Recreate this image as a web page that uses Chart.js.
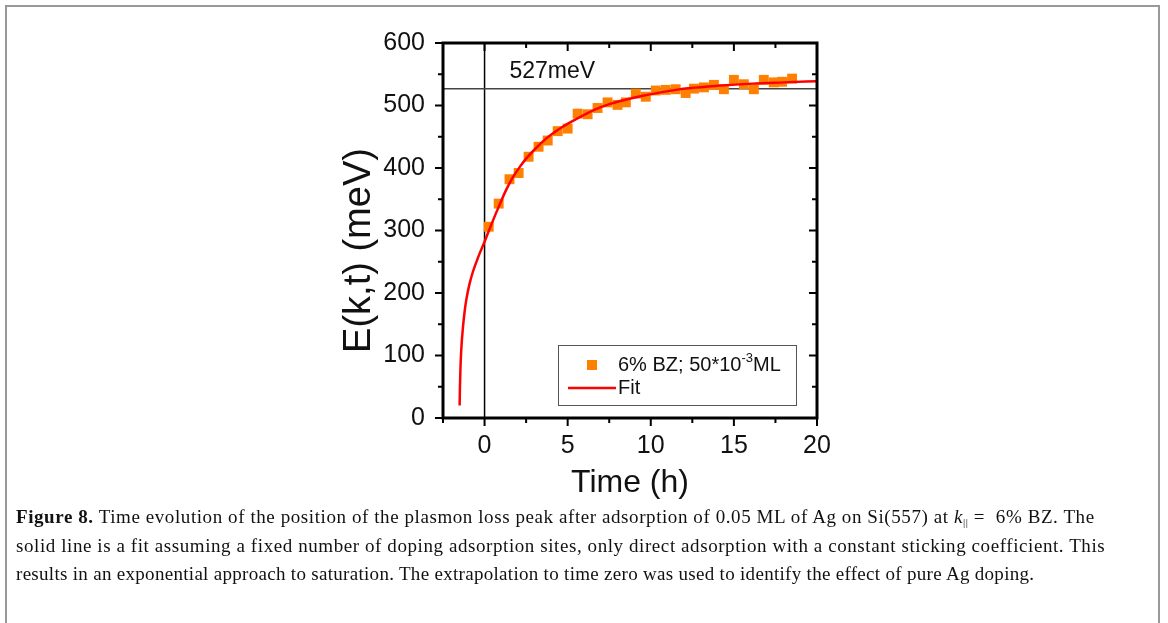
<!DOCTYPE html>
<html>
<head>
<meta charset="utf-8">
<script src="https://cdn.jsdelivr.net/npm/chart.js@4.4.1/dist/chart.umd.min.js"></script>
<style>
  html, body { margin: 0; padding: 0; background: #fff; overflow: hidden; }
  #page { position: relative; width: 1168px; height: 623px; }
  #frame {
    position: absolute; left: 5px; top: 5px; width: 1155px; height: 660px;
    border: 2px solid #999; border-bottom: none; box-sizing: border-box;
  }
  #plot { position: absolute; left: 0; top: 0; width: 1168px; height: 510px; }
  #caption {
    position: absolute; left: 16px; top: 503px; width: 1150px;
    font-family: 'Liberation Serif', serif; font-size: 19px; line-height: 28.5px;
    color: #111; white-space: nowrap;
  }
  #caption div { height: 28.5px; }
  #caption sub { font-size: 11px; line-height: 0; vertical-align: -3px; }
</style>
</head>
<body>
<div id="page">
  <div id="frame"></div>
  <div id="plot"><canvas id="myChart"></canvas></div>
  <div id="caption">
    <div style="letter-spacing:0.58px"><b>Figure 8.</b> Time evolution of the position of the plasmon loss peak after adsorption of 0.05 ML of Ag on Si(557) at <i>k</i><sub>||</sub> = &nbsp;6% BZ. The</div>
    <div style="letter-spacing:0.58px">solid line is a fit assuming a fixed number of doping adsorption sites, only direct adsorption with a constant sticking coefficient. This</div>
    <div style="letter-spacing:0.3px">results in an exponential approach to saturation. The extrapolation to time zero was used to identify the effect of pure Ag doping.</div>
  </div>
</div>
<script>
// measured points (time in h, energy in meV)
const timeH = [0.25, 0.85, 1.5, 2.05, 2.65, 3.25, 3.8, 4.4, 5.0, 5.6, 6.2, 6.8, 7.4, 8.0, 8.5, 9.1,
               9.7, 10.3, 10.9, 11.5, 12.1, 12.6, 13.2, 13.8, 14.4, 15.0, 15.6, 16.2, 16.8, 17.4, 17.9, 18.5];
const energy = [306, 343, 382, 392, 418, 434, 444, 459, 463, 487, 486, 496, 505, 501, 505, 519,
                514, 524, 525, 526, 520, 527, 529, 533, 526, 541, 534, 526, 541, 537, 538, 543];

// fit curve
const fitTime = [-1.5, -1.48, -1.45, -1.4, -1.3, -1.2, -1.1, -0.9, -0.7, -0.5, -0.3, 0, 0.4, 0.9,
                 1.3, 1.7, 2.1, 2.5, 3.1, 3.7, 4.2, 4.7, 5.5, 6.6, 7.6, 8.6, 9.6, 10.6, 11.5,
                 12.4, 14.0, 16.1, 18.0, 20];
const fitEnergy = [20, 50, 80, 110, 145, 170, 189, 215, 234, 249, 263, 282, 309, 341,
                   365, 385, 401, 415, 432, 447, 457, 466, 478, 493, 503, 510, 516, 521, 525,
                   528, 531.5, 535, 537, 539];

const refLevel = 527;   // horizontal line, meV
const refLabel = '527meV';
const xTicks = [0, 5, 10, 15, 20];
const yTicks = [0, 100, 200, 300, 400, 500, 600];
const xMinor = [-2.5, 2.5, 7.5, 12.5, 17.5];
const yMinor = [50, 150, 250, 350, 450, 550];
const yTitle = 'E(k,t) (meV)';
const seriesLabel = '6% BZ; 50*10';
const fitLabel = 'Fit';

const ctx = document.getElementById('myChart').getContext('2d');

// frame, tick marks, y title, legend and the 527meV label
const decorations = {
    id: 'decorations',
    afterDraw(chart) {
        const { ctx, chartArea: a, scales: { x, y } } = chart;
        ctx.save();
        ctx.strokeStyle = '#000';
        ctx.lineWidth = 2;
        xTicks.concat(xMinor).forEach(v => {
            const len = xTicks.includes(v) ? 8 : 5;
            const px = x.getPixelForValue(v);
            ctx.beginPath();
            ctx.moveTo(px, a.bottom); ctx.lineTo(px, a.bottom + len);
            ctx.moveTo(px, a.top); ctx.lineTo(px, a.top + len);
            ctx.stroke();
        });
        yTicks.concat(yMinor).forEach(v => {
            const len = yTicks.includes(v) ? 8 : 5;
            const py = y.getPixelForValue(v);
            ctx.beginPath();
            ctx.moveTo(a.left, py); ctx.lineTo(a.left - len, py);
            ctx.moveTo(a.right, py); ctx.lineTo(a.right - len, py);
            ctx.stroke();
        });
        ctx.lineWidth = 3;
        ctx.strokeRect(a.left, a.top, a.right - a.left, a.bottom - a.top);

        // y axis title, a bit below the middle like the original
        ctx.save();
        ctx.translate(a.left - 83, (a.top + a.bottom) / 2 + 20);
        ctx.rotate(-Math.PI / 2);
        ctx.fillStyle = '#111';
        ctx.font = '38px Arial, "Liberation Sans", sans-serif';
        ctx.textAlign = 'center';
        ctx.textBaseline = 'middle';
        ctx.fillText(yTitle, 0, 0);
        ctx.restore();

        // label above the reference line
        ctx.fillStyle = '#111';
        ctx.font = '23px Arial, "Liberation Sans", sans-serif';
        ctx.textBaseline = 'bottom';
        ctx.textAlign = 'left';
        ctx.fillText(refLabel, x.getPixelForValue(1.5), y.getPixelForValue(refLevel) - 5);

        // legend box
        const bx = a.left + 115, by = a.top + 302, bw = 238, bh = 60;
        ctx.lineWidth = 1;
        ctx.strokeStyle = '#555';
        ctx.strokeRect(bx + 0.5, by + 0.5, bw, bh);
        ctx.fillStyle = '#FF8000';
        ctx.fillRect(bx + 29, by + 15, 10, 10);
        ctx.fillStyle = '#111';
        ctx.font = '20px Arial, "Liberation Sans", sans-serif';
        ctx.textBaseline = 'middle';
        let tx = bx + 60;
        ctx.fillText(seriesLabel, tx, by + 20);
        tx += ctx.measureText(seriesLabel).width;
        ctx.font = '13px Arial, "Liberation Sans", sans-serif';
        ctx.fillText('-3', tx, by + 13);
        tx += ctx.measureText('-3').width;
        ctx.font = '20px Arial, "Liberation Sans", sans-serif';
        ctx.fillText('ML', tx, by + 20);
        ctx.fillText(fitLabel, bx + 60, by + 43);
        ctx.strokeStyle = '#FF0000';
        ctx.lineWidth = 2.5;
        ctx.beginPath();
        ctx.moveTo(bx + 10, by + 43); ctx.lineTo(bx + 58, by + 43);
        ctx.stroke();
        ctx.restore();
    }
};

const myChart = new Chart(ctx, {
    type: 'scatter',
    data: {
        datasets: [
            {
                label: fitLabel,
                data: fitTime.map((t, i) => ({ x: t, y: fitEnergy[i] })),
                showLine: true,
                borderColor: '#FF0000',
                borderWidth: 2.5,
                pointRadius: 0,
                cubicInterpolationMode: 'monotone',
                order: 0
            },
            {
                label: seriesLabel,
                data: timeH.map((t, i) => ({ x: t, y: energy[i] })),
                pointStyle: 'rect',
                pointRadius: 7,
                backgroundColor: '#FF8000',
                borderWidth: 0,
                order: 1
            },
            {
                label: 'ref',
                data: [{ x: -2.5, y: refLevel }, { x: 20, y: refLevel }],
                showLine: true,
                borderColor: '#444',
                borderWidth: 1.5,
                pointRadius: 0,
                order: 2
            },
            {
                label: 'zero',
                data: [{ x: 0, y: 0 }, { x: 0, y: 600 }],
                showLine: true,
                borderColor: '#000',
                borderWidth: 1.5,
                pointRadius: 0,
                order: 3
            }
        ]
    },
    options: {
        responsive: true,
        maintainAspectRatio: false,
        animation: false,
        layout: {
            padding: { left: 340, right: 351, top: 43, bottom: 2 }
        },
        scales: {
            x: {
                type: 'linear',
                min: -2.5,
                max: 20,
                afterBuildTicks: s => { s.ticks = xTicks.map(v => ({ value: v })); },
                afterFit: s => { s.height = 90; },
                grid: { display: false, drawTicks: true, tickLength: 8 },
                border: { display: false },
                ticks: {
                    color: '#111',
                    padding: 5,
                    maxRotation: 0,
                    font: { size: 25, family: 'Arial' }
                },
                title: {
                    display: true,
                    text: 'Time (h)',
                    color: '#111',
                    padding: { top: 0, bottom: 6 },
                    font: { size: 32, family: 'Arial', lineHeight: 1.2 }
                }
            },
            y: {
                min: 0,
                max: 600,
                afterBuildTicks: s => { s.ticks = yTicks.map(v => ({ value: v })); },
                afterFit: s => { s.width = 103; },
                grid: { display: false, drawTicks: true, tickLength: 8 },
                border: { display: false },
                ticks: {
                    color: '#111',
                    padding: 10,
                    font: { size: 25, family: 'Arial' }
                },
                title: { display: false }
            }
        },
        plugins: {
            legend: { display: false },
            tooltip: { enabled: false }
        }
    },
    plugins: [decorations]
});
</script>
</body>
</html>
